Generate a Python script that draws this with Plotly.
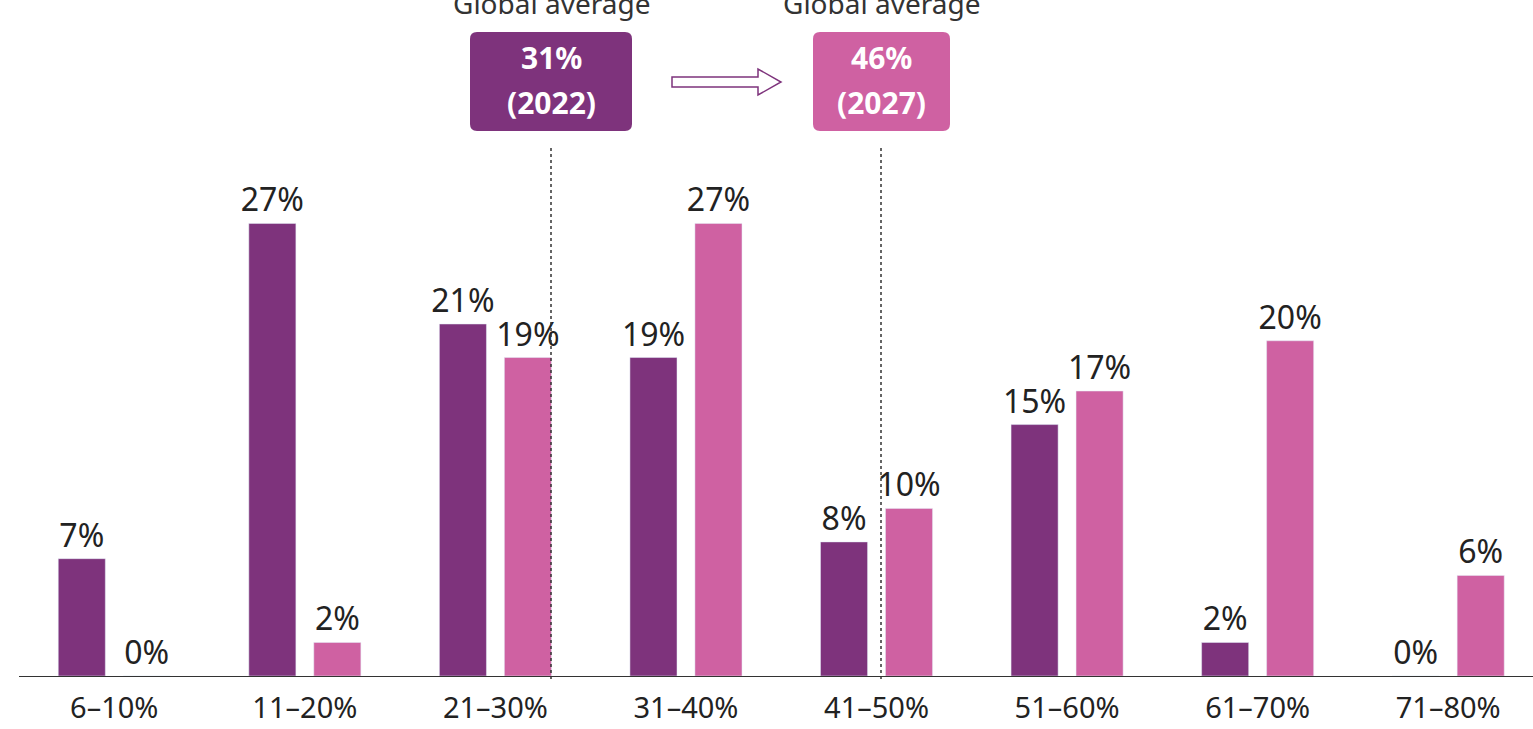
import plotly.graph_objects as go

categories = ["6–10%", "11–20%", "21–30%", "31–40%", "41–50%", "51–60%", "61–70%", "71–80%"]
share_2022 = [7, 27, 21, 19, 8, 15, 2, 0]
share_2027 = [0, 2, 19, 27, 10, 17, 20, 6]
avg_values = ["31%", "46%"]
avg_years = ["(2022)", "(2027)"]
avg_title = "Global average"

PURPLE = "#7E337C"
PINK = "#CF61A2"
TXT = "#222222"
FONT = "Noto Sans"

W, H = 1533, 729
ML, MR, MT, MB = 19, 0, 0, 53
PW, PH = W - ML - MR, H - MT - MB


def px(x):
    return (x - ML) / PW


def py(y):
    return (H - MB - y) / PH


fig = go.Figure()
bw = 0.247
fig.add_trace(go.Bar(x=categories, y=share_2022, marker_color=PURPLE, width=bw, offset=-0.294,
                     text=[f"{v}%" for v in share_2022], textposition="outside", cliponaxis=False,
                     constraintext="none",
                     textfont=dict(size=32, color=TXT, family=FONT), name="2022"))
fig.add_trace(go.Bar(x=categories, y=share_2027, marker_color=PINK, width=bw, offset=0.047,
                     text=[f"{v}%" for v in share_2027], textposition="outside", cliponaxis=False,
                     constraintext="none",
                     textfont=dict(size=32, color=TXT, family=FONT), name="2027"))

shapes = []
# dotted guide lines
for lx in (551, 881):
    shapes.append(dict(type="line", xref="paper", yref="paper", x0=px(lx), x1=px(lx),
                       y0=py(148), y1=py(680), line=dict(color="#333333", width=1.5, dash="dot")))


def rrect(x0, y0, x1, y1, r):
    X0, X1 = px(x0), px(x1)
    rx = r / PW
    ry = r / PH
    Y0, Y1 = py(y1), py(y0)  # bottom, top in paper
    return (f"M {X0+rx},{Y0} L {X1-rx},{Y0} Q {X1},{Y0} {X1},{Y0+ry} L {X1},{Y1-ry} "
            f"Q {X1},{Y1} {X1-rx},{Y1} L {X0+rx},{Y1} Q {X0},{Y1} {X0},{Y1-ry} "
            f"L {X0},{Y0+ry} Q {X0},{Y0} {X0+rx},{Y0} Z")


boxes = [(470, 32, 632, 131, PURPLE), (813, 32, 950, 131, PINK)]
for (x0, y0, x1, y1, c) in boxes:
    shapes.append(dict(type="path", xref="paper", yref="paper", path=rrect(x0, y0, x1, y1, 7),
                       fillcolor=c, line=dict(width=0), layer="above"))

# hollow arrow
pts = [(672, 77), (758, 77), (758, 69), (781, 82), (758, 95), (758, 87), (672, 87)]
path = "M " + " L ".join(f"{px(x)},{py(y)}" for x, y in pts) + " Z"
shapes.append(dict(type="path", xref="paper", yref="paper", path=path, fillcolor="white",
                   line=dict(color=PURPLE, width=1.5)))

annotations = []
for (x0, y0, x1, y1, c), val, yr, cx in zip(boxes, avg_values, avg_years, (551, 881)):
    xc = px((x0 + x1) / 2)
    annotations.append(dict(xref="paper", yref="paper", x=xc, y=py(80), text=f"<b>{val}</b>",
                            showarrow=False, xanchor="center", yanchor="bottom",
                            font=dict(size=30, color="white", family=FONT)))
    annotations.append(dict(xref="paper", yref="paper", x=xc, y=py(80), text=f"<b>{yr}</b>",
                            showarrow=False, xanchor="center", yanchor="top",
                            font=dict(size=30, color="white", family=FONT)))
    annotations.append(dict(xref="paper", yref="paper", x=px(cx), y=py(24), text=avg_title,
                            showarrow=False, xanchor="center", yanchor="bottom",
                            font=dict(size=28, color="#333333", family=FONT)))

fig.update_layout(
    width=W, height=H, margin=dict(l=ML, r=MR, t=MT, b=MB),
    plot_bgcolor="white", paper_bgcolor="white", showlegend=False,
    barmode="overlay", shapes=shapes, annotations=annotations,
    xaxis=dict(type="category", range=[-0.5, 7.445], showline=True, linecolor="#333333", linewidth=1.2,
               ticks="outside", ticklen=6, tickcolor="rgba(0,0,0,0)",
               tickfont=dict(size=29, color=TXT, family=FONT), showgrid=False, zeroline=False),
    yaxis=dict(range=[0, 40.33], visible=False, showgrid=False, zeroline=False),
)

fig.write_html("out.html", config={"displayModeBar": False},
               post_script="document.body.style.margin='0';document.body.style.overflow='hidden';")
